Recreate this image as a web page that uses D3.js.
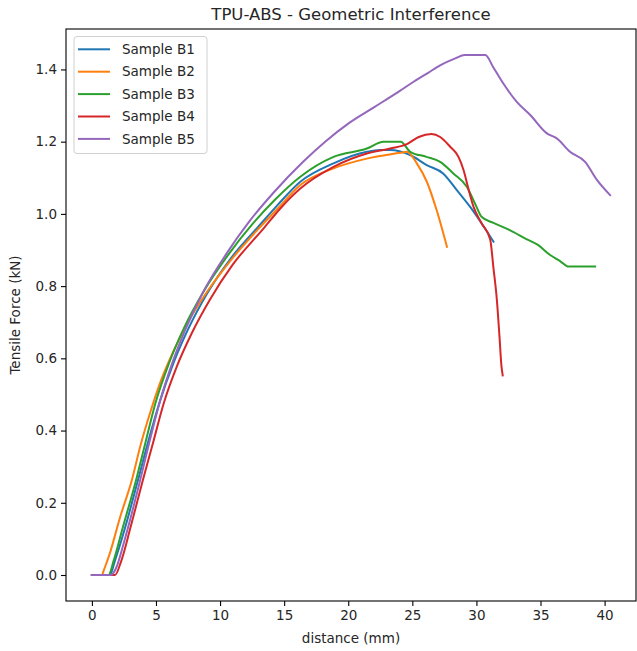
<!DOCTYPE html>
<html>
<head>
<meta charset="utf-8">
<script src="https://cdn.jsdelivr.net/npm/d3@7"></script>
<style>
  body { margin: 0; background: #fff; }
  text { font-family: "DejaVu Sans", sans-serif; fill: #262626; }
</style>
</head>
<body>
<div id="chart"></div>
<script>
// Data (distance in mm, force in kN)
var seriesNames = ["Sample B1", "Sample B2", "Sample B3", "Sample B4", "Sample B5"];
var seriesColors = ["#1f77b4", "#ff7f0e", "#2ca02c", "#d62728", "#9467bd"];

var b1X = [0, 1.4, 1.8, 2.5, 3.6, 4.4, 5.3, 6.4, 7.5, 9.0, 10.8, 13.0, 14.5, 16.26, 18.85, 21.45, 22.5, 23.27, 24.83, 26.13, 27.4, 28.47, 29.5, 30.4, 31.33];
var b1Y = [0, 0, 0.04, 0.12, 0.263, 0.37, 0.48, 0.59, 0.68, 0.78, 0.875, 0.965, 1.025, 1.089, 1.14, 1.172, 1.177, 1.177, 1.163, 1.135, 1.112, 1.066, 1.02, 0.974, 0.923];

var b2X = [0, 0.8, 0.9, 1.4, 2.2, 3.12, 3.8, 4.55, 5.3, 6.3, 7.5, 9.0, 10.8, 12.9, 14.5, 16.26, 18.85, 21.45, 24.05, 24.57, 25.35, 26.13, 26.9, 27.7];
var b2Y = [0, 0, 0.01, 0.06, 0.16, 0.263, 0.36, 0.45, 0.53, 0.615, 0.7, 0.785, 0.87, 0.955, 1.015, 1.08, 1.126, 1.153, 1.169, 1.172, 1.14, 1.089, 1.01, 0.909];

var b3X = [0, 1.3, 1.7, 2.4, 3.45, 4.2, 4.95, 6.0, 7.2, 8.8, 10.6, 12.6, 14.3, 16.26, 18.85, 21.45, 22.75, 24.1, 24.83, 26.1, 27.17, 28.2, 29.25, 30.0, 30.4, 31.33, 32.6, 33.9, 34.8, 35.75, 36.5, 37.2, 39.26];
var b3Y = [0, 0, 0.04, 0.13, 0.263, 0.37, 0.475, 0.585, 0.685, 0.79, 0.885, 0.975, 1.04, 1.103, 1.158, 1.181, 1.2, 1.2, 1.172, 1.158, 1.144, 1.112, 1.075, 1.02, 0.992, 0.975, 0.955, 0.93, 0.914, 0.886, 0.87, 0.854, 0.854];

var b4X = [0, 1.8, 2.3, 3.0, 3.98, 4.8, 5.6, 6.6, 7.8, 9.25, 11.0, 13.4, 14.7, 16.26, 18.85, 21.45, 23.27, 24.57, 25.5, 26.5, 27.17, 27.95, 28.6, 29.0, 29.4, 29.77, 30.4, 31.07, 31.33, 31.6, 31.8, 31.95, 32.05];
var b4Y = [0, 0, 0.04, 0.13, 0.263, 0.37, 0.475, 0.575, 0.67, 0.765, 0.86, 0.96, 1.015, 1.07, 1.13, 1.167, 1.181, 1.193, 1.213, 1.221, 1.213, 1.186, 1.158, 1.121, 1.066, 1.02, 0.974, 0.93, 0.85, 0.76, 0.66, 0.58, 0.553];

var b5X = [0, 1.5, 1.9, 2.5, 3.77, 4.5, 5.3, 6.2, 7.3, 8.7, 10.5, 12.3, 14.2, 16.5, 18.2, 20.0, 22.0, 24.0, 25.1, 26.2, 27.2, 28.3, 29.1, 30.7, 31.3, 32.1, 33.15, 34.2, 35.5, 36.27, 37.3, 38.48, 39.4, 40.43];
var b5Y = [0, 0, 0.02, 0.09, 0.263, 0.37, 0.48, 0.58, 0.68, 0.785, 0.89, 0.98, 1.06, 1.145, 1.2, 1.25, 1.295, 1.34, 1.366, 1.39, 1.412, 1.43, 1.44, 1.44, 1.407, 1.361, 1.31, 1.274, 1.223, 1.209, 1.172, 1.144, 1.094, 1.052];

var xTicks = [0, 5, 10, 15, 20, 25, 30, 35, 40];
var yTicks = [0.0, 0.2, 0.4, 0.6, 0.8, 1.0, 1.2, 1.4];

var allX = [b1X, b2X, b3X, b4X, b5X];
var allY = [b1Y, b2Y, b3Y, b4Y, b5Y];

// Set up the SVG
var svgWidth = 637;
var svgHeight = 651;

var margin = {
  top: 29,
  right: 1,
  bottom: 50,
  left: 66
};

var width = svgWidth - margin.left - margin.right;
var height = svgHeight - margin.top - margin.bottom;

var svg = d3.select("#chart")
  .append("svg")
  .attr("width", svgWidth)
  .attr("height", svgHeight);

var chartGroup = svg.append("g")
  .attr("transform", `translate(${margin.left}, ${margin.top})`);

// Build rows for each sample
var samples = seriesNames.map(function(name, i) {
  return {
    name: name,
    color: seriesColors[i],
    points: allX[i].map(function(x, j) { return { x: x, y: allY[i][j] }; })
  };
});

// Scales (matplotlib-like 5% margins)
var xLinearScale = d3.scaleLinear()
  .domain([-2.02, 42.45])
  .range([0, width]);

var yLinearScale = d3.scaleLinear()
  .domain([-0.072, 1.512])
  .range([height, 0]);

// Axes
var bottomAxis = d3.axisBottom(xLinearScale)
  .tickValues(xTicks)
  .tickSize(5)
  .tickPadding(4)
  .tickFormat(d3.format("d"));

var leftAxis = d3.axisLeft(yLinearScale)
  .tickValues(yTicks)
  .tickSize(5)
  .tickPadding(4)
  .tickFormat(d3.format(".1f"));

var xAxisG = chartGroup.append("g")
  .attr("transform", `translate(0, ${height})`)
  .call(bottomAxis);

var yAxisG = chartGroup.append("g")
  .call(leftAxis);

[xAxisG, yAxisG].forEach(function(g) {
  g.select(".domain").remove();
  g.selectAll("line").attr("stroke", "#000").attr("stroke-width", 1.1);
  g.selectAll("text")
    .style("font-family", "DejaVu Sans, sans-serif")
    .style("font-size", "13.5px")
    .attr("fill", "#262626");
});

// Lines
var line = d3.line()
  .curve(d3.curveMonotoneX)
  .x(d => xLinearScale(d.x))
  .y(d => yLinearScale(d.y));

chartGroup.selectAll(".sample")
  .data(samples)
  .enter()
  .append("path")
  .attr("class", "sample")
  .attr("d", d => line(d.points))
  .attr("fill", "none")
  .attr("stroke", d => d.color)
  .attr("stroke-width", 2)
  .attr("stroke-linejoin", "round")
  .attr("stroke-linecap", "square");

// Frame
chartGroup.append("rect")
  .attr("x", 0)
  .attr("y", 0)
  .attr("width", width)
  .attr("height", height)
  .attr("fill", "none")
  .attr("stroke", "#000")
  .attr("stroke-width", 1.1);

// Legend
var legend = chartGroup.append("g")
  .attr("transform", "translate(8, 7.5)");

legend.append("rect")
  .attr("width", 133)
  .attr("height", 117)
  .attr("rx", 3)
  .attr("fill", "#fff")
  .attr("fill-opacity", 0.8)
  .attr("stroke", "#d0d0d0");

var legendRows = legend.selectAll(".row")
  .data(samples)
  .enter()
  .append("g")
  .attr("class", "row")
  .attr("transform", (d, i) => `translate(0, ${12.8 + i * 22.4})`);

legendRows.append("line")
  .attr("x1", 4)
  .attr("x2", 36)
  .attr("stroke", d => d.color)
  .attr("stroke-width", 2);

legendRows.append("text")
  .attr("x", 48)
  .attr("dy", "0.35em")
  .style("font-size", "13.5px")
  .text(d => d.name);

// Title and axis labels
svg.append("text")
  .attr("x", margin.left + width / 2)
  .attr("y", 20)
  .attr("text-anchor", "middle")
  .style("font-size", "16.5px")
  .text("TPU-ABS - Geometric Interference");

svg.append("text")
  .attr("x", margin.left + width / 2)
  .attr("y", 643)
  .attr("text-anchor", "middle")
  .style("font-size", "13.5px")
  .text("distance (mm)");

svg.append("text")
  .attr("transform", `translate(20, ${margin.top + height / 2}) rotate(-90)`)
  .attr("text-anchor", "middle")
  .style("font-size", "13.5px")
  .text("Tensile Force (kN)");
</script>
</body>
</html>
